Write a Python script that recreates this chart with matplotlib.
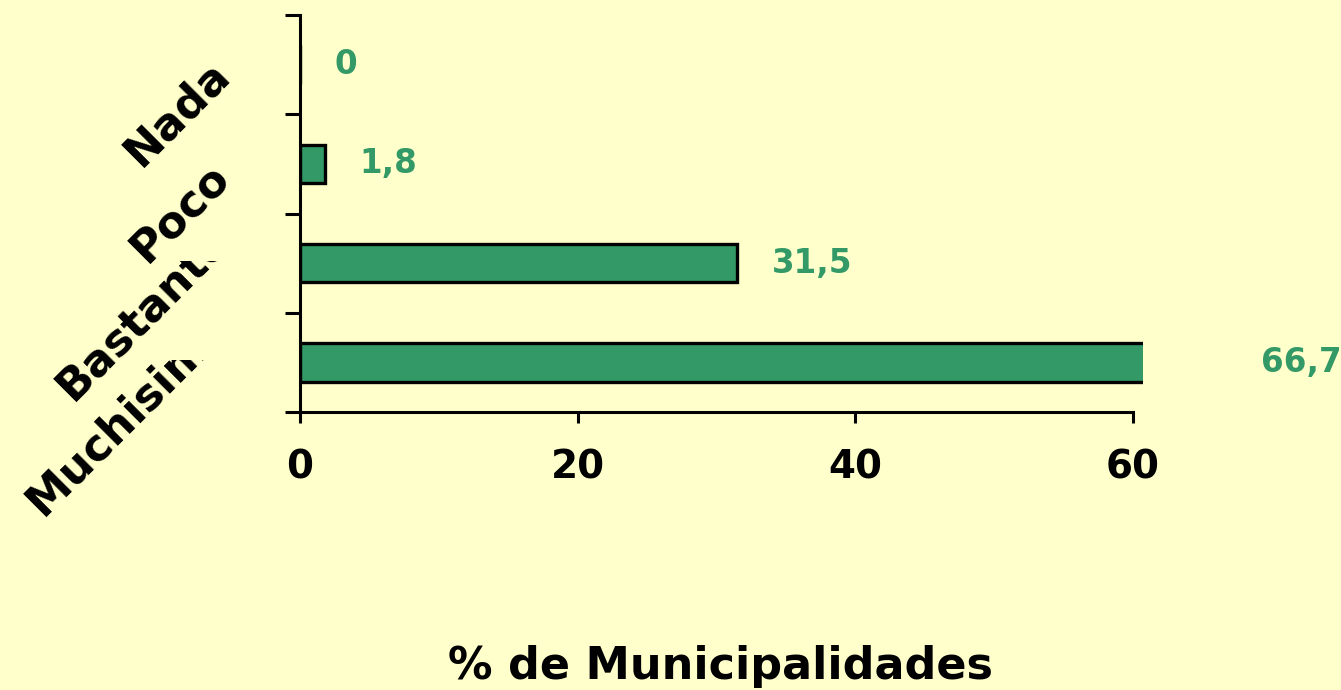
import matplotlib
matplotlib.use("Agg")
import matplotlib.pyplot as plt
from matplotlib.transforms import IdentityTransform, Bbox

# data, top to bottom as in the chart
categories = ['Nada', 'Poco', 'Bastante', 'Muchisimo']
values = [0, 1.8, 31.5, 66.7]
value_labels = ['0', '1,8', '31,5', '66,7']
xticks = [0, 20, 40, 60]

bg = '#FFFFCC'
green = '#339966'
W, H = 1341, 690

plt.rcParams['font.family'] = ['DejaVu Sans']
plt.rcParams['font.weight'] = 'bold'

fig = plt.figure(figsize=(W / 100, H / 100), dpi=100, facecolor=bg)
ax = fig.add_axes([300 / W, 1 - 412 / H, 843 / W, 397 / H])
ax.set_facecolor(bg)

pos = list(range(len(categories)))
ax.barh(pos, values, height=0.39, color=green, edgecolor='black', linewidth=2.4, zorder=2)
ax.set_ylim(len(categories) - 0.5, -0.5)
ax.set_xlim(0, 60.72)

# value labels right of each bar
for p, v, lab in zip(pos, values, value_labels):
    ax.text(v + 2.5, p, lab, color=green, fontsize=23.5, fontweight='bold',
            ha='left', va='center', clip_on=False)

for s in ['top', 'right']:
    ax.spines[s].set_visible(False)
for s in ['left', 'bottom']:
    ax.spines[s].set_linewidth(2.2)
ax.spines['bottom'].set_bounds(0, 60)

ax.set_xticks(xticks)
ax.set_xticklabels([str(t) for t in xticks], fontsize=28, fontweight='bold')
ax.tick_params(axis='x', direction='out', length=8, width=2.2, pad=18)
ax.set_yticks([p - 0.5 for p in pos] + [pos[-1] + 0.5])
ax.set_yticklabels([])
ax.tick_params(axis='y', direction='out', length=11, width=2.2)

fig.text(721 / W, 1 - 666 / H, '% de Municipalidades', fontsize=32,
         fontweight='bold', ha='center', va='center')

# rotated category labels, cut off at their tick line like the original
fig.canvas.draw()
r = fig.canvas.get_renderer()
texts = []
for p, name in zip(pos, categories):
    t = fig.text(0, 0, name, rotation=45, ha='right', va='top', fontsize=32,
                 fontweight='bold', transform=IdentityTransform())
    texts.append((p, t, t.get_window_extent(r).height))
hmin = min(h for _, _, h in texts)
for p, t, h in texts:
    ty = ax.transData.transform((0, p))[1]
    t.set_position((238, ty + 9 + (h - hmin) * 0.48))
    t.set_clip_box(Bbox([[0, 0], [W, ty + 2]]))
    t.set_clip_on(True)

fig.savefig('out.png', dpi=100, facecolor=bg)
